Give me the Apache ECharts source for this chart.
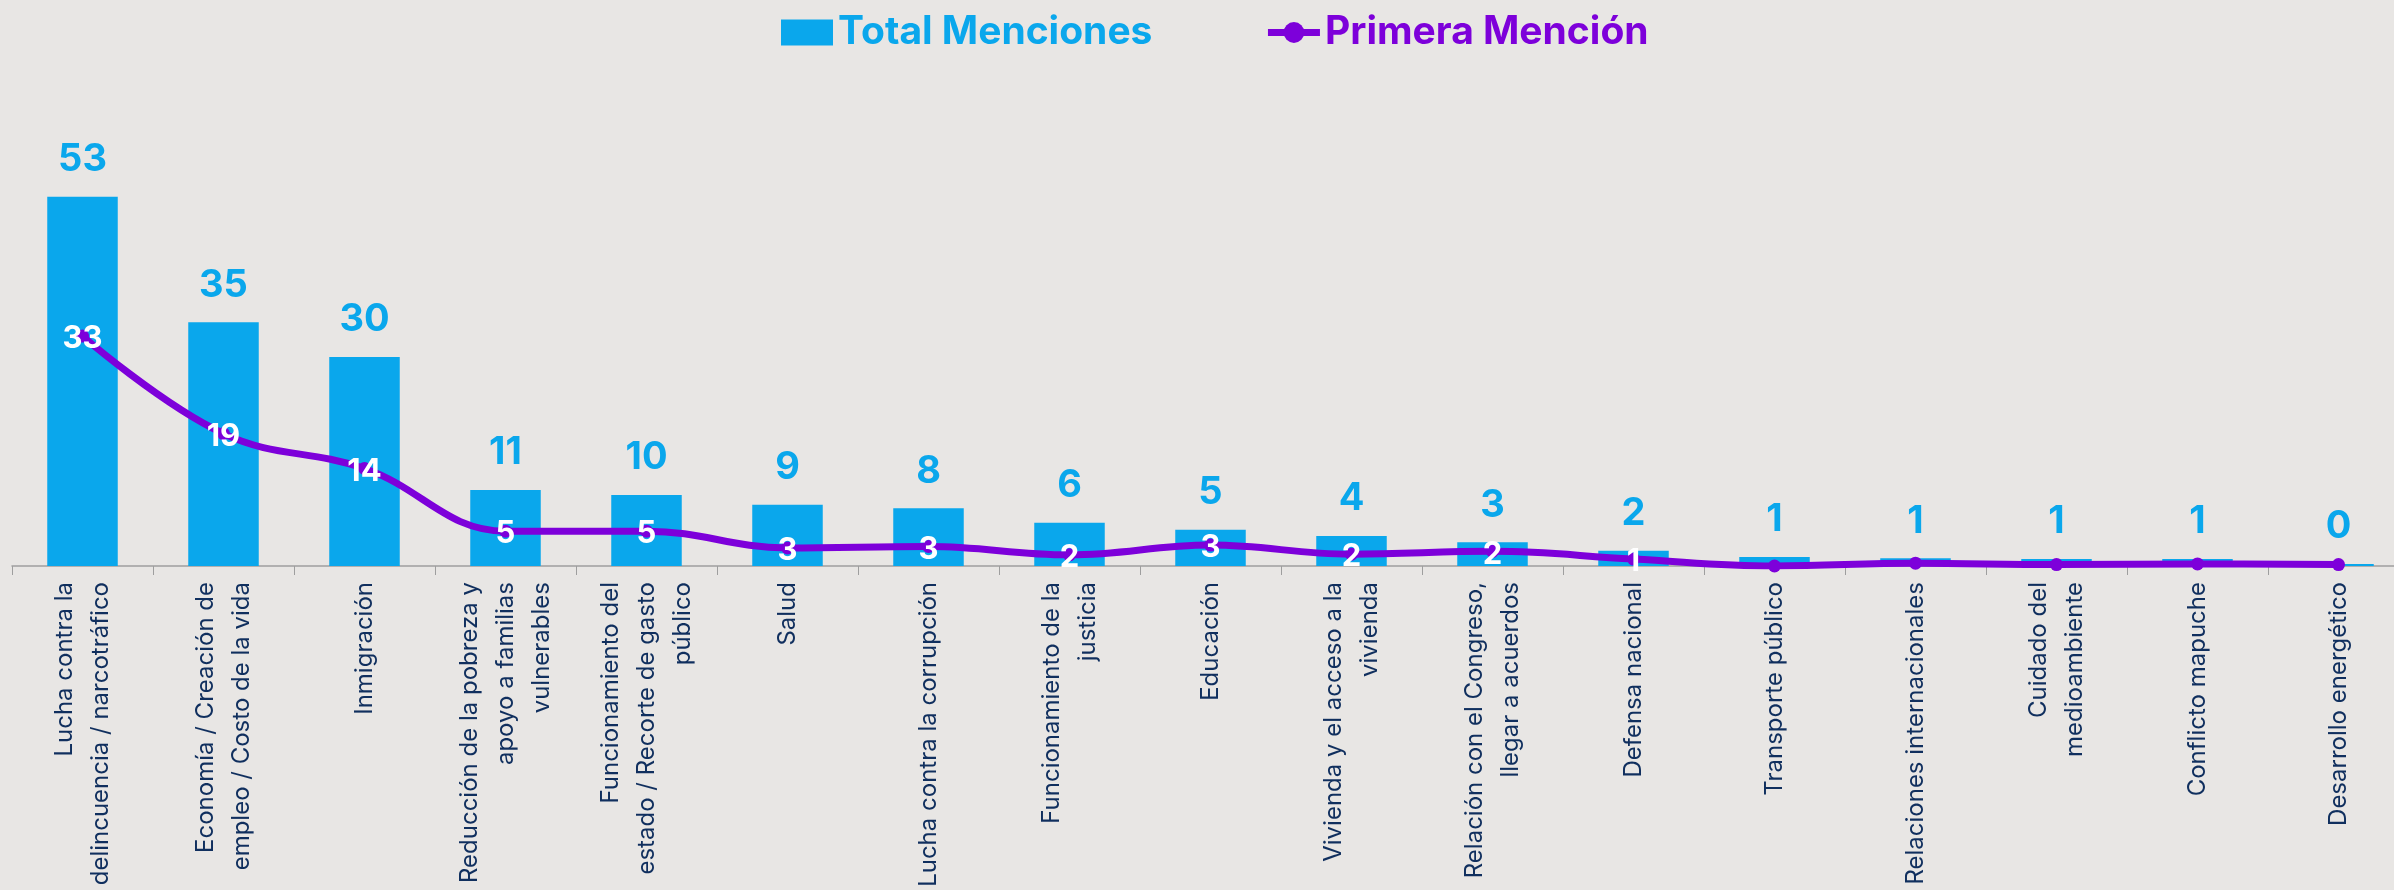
<!DOCTYPE html>
<html>
<head>
<meta charset="utf-8">
<script src="https://cdn.jsdelivr.net/npm/echarts@6/dist/echarts.min.js"></script>
<style>
html,body{margin:0;padding:0;background:#E8E6E4;}
#chart{width:2394px;height:890px;}
</style>
</head>
<body>
<div id="chart"></div>
<script>
const categories = [
  "Lucha contra la\ndelincuencia / narcotráfico",
  "Economía / Creación de\nempleo / Costo de la vida",
  "Inmigración",
  "Reducción de la pobreza y\napoyo a familias\nvulnerables",
  "Funcionamiento del\nestado / Recorte de gasto\npúblico",
  "Salud",
  "Lucha contra la corrupción",
  "Funcionamiento de la\njusticia",
  "Educación",
  "Vivienda y el acceso a la\nvivienda",
  "Relación con el Congreso,\nllegar a acuerdos",
  "Defensa nacional",
  "Transporte público",
  "Relaciones internacionales",
  "Cuidado del\nmedioambiente",
  "Conflicto mapuche",
  "Desarrollo energético"
];
const totalMenciones = [53, 35, 30, 10.9, 10.2, 8.8, 8.3, 6.2, 5.2, 4.3, 3.4, 2.2, 1.3, 1.1, 1.0, 1.0, 0.3];
const primeraMencion = [33, 19, 14, 5, 5, 2.6, 2.8, 1.6, 3, 1.7, 2.1, 1, 0, 0.4, 0.2, 0.3, 0.2];
const seriesNames = ["Total Menciones", "Primera Mención"];

const BLUE = '#0AA7EC';
const PURPLE = '#7D00DA';
const NAVY = '#102F5E';
const FONT = 'Inter, "Open Sans", sans-serif';

const chart = echarts.init(document.getElementById('chart'));
chart.setOption({
  backgroundColor: '#E8E6E4',
  animation: false,
  legend: {
    top: 8,
    left: 776,
    itemGap: 112,
    itemWidth: 52,
    itemHeight: 26,
    textStyle: { fontFamily: FONT, fontSize: 39, fontWeight: 'bold' },
    data: [
      { name: seriesNames[0], icon: 'rect', textStyle: { color: BLUE } },
      { name: seriesNames[1], lineStyle: { width: 7 }, textStyle: { color: PURPLE } }
    ]
  },
  grid: { left: 12, width: 2397, top: 148, height: 418, containLabel: false, outerBoundsMode: 'none' },
  xAxis: {
    type: 'category',
    data: categories,
    boundaryGap: true,
    axisLine: { lineStyle: { color: '#9E9E9E', width: 1.5 } },
    axisTick: { show: true, length: 9, lineStyle: { color: '#9E9E9E' } },
    axisLabel: {
      interval: 0,
      rotate: 90,
      margin: 16,
      color: NAVY,
      fontFamily: FONT,
      fontSize: 24,
      lineHeight: 36
    }
  },
  yAxis: { type: 'value', min: 0, max: 60, show: false, splitLine: { show: false } },
  series: [
    {
      name: seriesNames[0],
      type: 'bar',
      data: totalMenciones,
      barWidth: '50%',
      itemStyle: { color: BLUE },
      label: {
        show: true,
        position: 'top',
        distance: 18,
        color: BLUE,
        fontFamily: FONT,
        fontSize: 38,
        fontWeight: 'bold',
        formatter: p => Math.round(p.value)
      }
    },
    {
      name: seriesNames[1],
      type: 'line',
      data: primeraMencion,
      smooth: 0.4,
      symbol: 'circle',
      symbolSize: 13,
      lineStyle: { color: PURPLE, width: 7 },
      itemStyle: { color: PURPLE },
      z: 5,
      label: {
        show: true,
        position: 'inside',
        offset: [0, 3],
        color: '#FFFFFF',
        fontFamily: FONT,
        fontSize: 31,
        fontWeight: 'bold',
        formatter: p => p.value >= 0.5 ? Math.round(p.value) : ''
      }
    }
  ]
});
</script>
</body>
</html>
